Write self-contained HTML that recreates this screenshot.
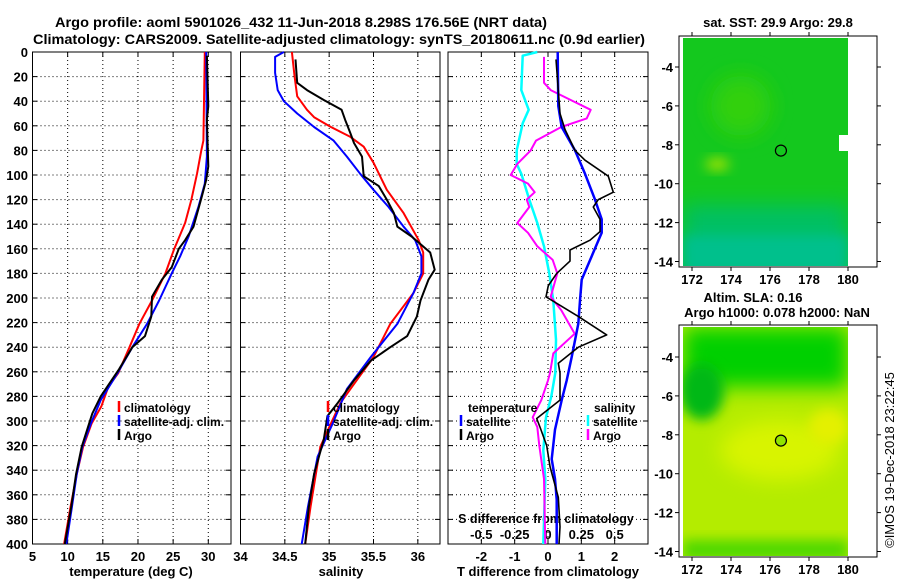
<!DOCTYPE html>
<html><head><meta charset="utf-8"><style>
html,body{margin:0;padding:0;background:#fff;}
svg{display:block;font-family:"Liberation Sans",Arial,sans-serif;font-weight:bold;}
</style></head><body>
<svg id="fig" width="900" height="580" viewBox="0 0 900 580" xmlns="http://www.w3.org/2000/svg">
<defs>
<filter id="blur6" x="-50%" y="-50%" width="200%" height="200%"><feGaussianBlur stdDeviation="6"/></filter>
<filter id="blur10" x="-50%" y="-50%" width="200%" height="200%"><feGaussianBlur stdDeviation="10"/></filter>
<clipPath id="clipM1"><rect x="683" y="38" width="165" height="228"/></clipPath>
<clipPath id="clipM2"><rect x="683" y="327" width="165" height="229"/></clipPath>
</defs>
<text x="301" y="27" font-size="14" text-anchor="middle" textLength="492" lengthAdjust="spacingAndGlyphs">Argo profile: aoml 5901026_432 11-Jun-2018 8.298S 176.56E (NRT data)</text>
<text x="339" y="44" font-size="14" text-anchor="middle" textLength="612" lengthAdjust="spacingAndGlyphs">Climatology: CARS2009. Satellite-adjusted climatology: synTS_20180611.nc (0.9d earlier)</text>
<g id="plots"></g>
<g id="maps"></g>
</svg>
<script>
// ---- depth axis ----
const depthTicks = [0,20,40,60,80,100,120,140,160,180,200,220,240,260,280,300,320,340,360,380,400];
// ---- temperature panel data ----
const tempTicks = [5,10,15,20,25,30];
const climTDepth = [0,72,80,99,120,139,161,180,202,221,240,261,272,288,302,321,343,370,400];
const climTVal   = [29.5,29.3,29.0,28.4,27.6,26.7,25.1,23.9,22.0,20.2,18.8,17.2,15.8,14.8,13.4,12.2,11.3,10.4,9.5];
const satTDepth  = [0,85,107,126,150,166,180,202,221,240,261,283,302,321,343,370,400];
const satTVal    = [29.7,29.8,29.5,28.6,27.2,26.0,24.8,23.0,21.3,19.2,17.1,14.7,13.3,12.1,11.3,10.6,9.8];
const argoTDepth = [3,44,55,93,104,117,142,153,160,175,185,199,215,231,240,258,280,294,321,343,370,400];
const argoTVal   = [29.8,30.0,29.8,30.0,29.7,29.1,27.9,26.7,25.8,24.8,23.4,22.0,21.9,21.0,19.2,17.3,14.7,13.5,12.0,11.2,10.5,9.6];
// ---- salinity panel data ----
const salTicks = ["34","34.5","35","35.5","36"];
const climSDepth = [0,20,36,47,53,61,69,77,90,112,131,153,163,180,196,221,248,274,285,302,321,343,370,400];
const climSVal   = [34.58,34.61,34.64,34.75,34.83,35.02,35.24,35.39,35.50,35.65,35.84,36.01,36.06,36.06,35.95,35.69,35.50,35.24,35.13,35.02,34.90,34.85,34.79,34.73];
const satSDepth  = [0,4,17,31,40,50,61,72,85,99,112,126,142,153,166,180,196,221,248,274,302,329,370,400];
const satSVal    = [34.49,34.39,34.39,34.42,34.49,34.64,34.83,35.05,35.20,35.35,35.50,35.67,35.84,35.97,36.04,36.04,35.95,35.77,35.47,35.20,35.04,34.87,34.76,34.69];
const argoSDepth = [6,25,31,39,47,55,66,74,85,101,109,120,131,142,150,163,177,185,202,215,231,240,251,267,285,296,315,343,370,400];
const argoSVal   = [34.62,34.64,34.75,34.94,35.14,35.18,35.24,35.28,35.37,35.39,35.56,35.65,35.73,35.77,35.93,36.14,36.19,36.12,36.03,35.99,35.88,35.69,35.47,35.28,35.10,34.98,34.94,34.83,34.77,34.73];
// ---- difference panel data ----
const diffTTicks = [-2,-1,0,1,2];
const diffSTickLabels = ["-0.5","-0.25","0","0.25","0.5"];
const diffSTicks = [-0.5,-0.25,0,0.25,0.5];
const satDTDepth = [0,44,61,80,99,120,136,147,166,185,202,221,248,267,283,307,331,347,364,400];
const satDTVal   = [0.29,0.31,0.41,0.81,1.11,1.41,1.61,1.61,1.31,1.01,0.96,0.91,0.71,0.56,0.41,0.21,0.11,0.21,0.26,0.26];
const argoDTDepth = [6,50,63,80,88,101,114,120,126,136,146,153,161,170,180,190,199,215,230,240,253,261,267,283,298,305,320,337,362,386,400];
const argoDTVal   = [0.24,0.36,0.51,0.81,1.11,1.81,1.96,1.51,1.36,1.56,1.56,1.26,0.66,0.66,0.26,0.01,-0.06,0.91,1.76,0.91,0.31,0.36,0.36,0.36,-0.34,-0.24,-0.04,0.06,0.31,0.36,0.33];
const satDSDepth = [0,3,31,47,58,80,91,99,120,139,158,180,202,234,261,280,297,324,347,400];
const satDSVal   = [-0.08,-0.19,-0.20,-0.145,-0.19,-0.235,-0.235,-0.20,-0.14,-0.08,-0.03,0.01,0.04,0.06,0.055,0.025,-0.015,-0.035,-0.02,-0.035];
const argoDSDepth = [4,25,31,39,47,54,61,72,80,91,100,107,114,120,126,139,147,158,169,180,199,210,229,245,261,267,283,297,305,320,347,400];
const argoDSVal   = [-0.03,-0.03,0.02,0.17,0.32,0.29,0.10,-0.09,-0.13,-0.23,-0.28,-0.15,-0.10,-0.16,-0.14,-0.23,-0.15,-0.08,0.035,0.07,0.02,0.10,0.20,0.04,0.015,0.0,-0.05,-0.115,-0.08,-0.065,-0.03,-0.02];
// ---- map axes ----
const lonTicks = [172,174,176,178,180];
const latTicks = [-4,-6,-8,-10,-12,-14];
const argoLon = 176.56, argoLat = -8.298;

const NS="http://www.w3.org/2000/svg";
const plots=document.getElementById('plots');
const maps=document.getElementById('maps');
function mk(tag,attrs,parent){const e=document.createElementNS(NS,tag);for(const k in attrs)e.setAttribute(k,attrs[k]);(parent||plots).appendChild(e);return e;}
function txt(s,attrs,parent){const e=mk('text',attrs,parent);e.textContent=s;return e;}

const TOP=52, BOT=544;
const yD=d=>TOP+d*(BOT-TOP)/400;
const panels=[
 {name:'temperature',x0:32.5,x1:231,lo:5,hi:33.23},
 {name:'salinity',x0:240.5,x1:440,lo:34,hi:36.25},
 {name:'difference',x0:448,x1:648,lo:-3,hi:3}
];
panels.forEach(p=>{p.sx=v=>p.x0+(v-p.lo)*(p.x1-p.x0)/(p.hi-p.lo);});
const [P1,P2,P3]=panels;

function frame(p,vticks){
  const g=mk('g',{});
  
  
  depthTicks.forEach(d=>{
    if(d===0||d===400)return;
    const y=yD(d);
    const l=mk('line',{x1:p.x0,x2:p.x1,y1:y,y2:y,stroke:'#000','stroke-width':1,'stroke-dasharray':'1,3'},g);
    
    
    mk('line',{x1:p.x0,x2:p.x0+5,y1:y,y2:y,stroke:'#000'},g);
    mk('line',{x1:p.x1-5,x2:p.x1,y1:y,y2:y,stroke:'#000'},g);
  });
  vticks.forEach(v=>{
    const x=p.sx(v);
    if(x<=p.x0+1||x>=p.x1-1)return;
    const l=mk('line',{x1:x,x2:x,y1:TOP,y2:BOT,stroke:'#000','stroke-width':1,'stroke-dasharray':'1,3'},g);
    
    
    mk('line',{x1:x,x2:x,y1:BOT-5,y2:BOT,stroke:'#000'},g);
    mk('line',{x1:x,x2:x,y1:TOP,y2:TOP+5,stroke:'#000'},g);
  });
  const r=mk('rect',{x:p.x0,y:TOP,width:p.x1-p.x0,height:BOT-TOP,fill:'none',stroke:'#000','stroke-width':1},g);
  
  
  return g;
}
function line(p,depths,vals,color,name,w,scale){
  const pts=depths.map((d,i)=>p.sx(vals[i]*(scale||1)).toFixed(1)+','+yD(d).toFixed(1)).join(' ');
  const e=mk('polyline',{points:pts,fill:'none',stroke:color,'stroke-width':w||2,'stroke-linejoin':'round'});
  
  
}

frame(P1,tempTicks);
frame(P2,salTicks.map(Number));
frame(P3,diffTTicks);

depthTicks.forEach(d=>{
  const t=txt(String(d),{x:28,y:yD(d)+5,'font-size':13,'text-anchor':'end'});
  
  
});
tempTicks.forEach(v=>{const t=txt(String(v),{x:P1.sx(v),y:561,'font-size':13,'text-anchor':'middle'});
  });
salTicks.forEach(v=>{const t=txt(v,{x:P2.sx(Number(v)),y:561,'font-size':13,'text-anchor':'middle'});
  });
diffTTicks.forEach(v=>{const t=txt(String(v),{x:P3.sx(v),y:561,'font-size':13,'text-anchor':'middle'});
  });
diffSTicks.forEach((v,i)=>{const t=txt(diffSTickLabels[i],{x:P3.sx(v*4),y:539,'font-size':13,'text-anchor':'middle'});
  });
[['temperature (deg C)',131,'temperature-axis-title'],['salinity',341,'salinity-axis-title'],['T difference from climatology',548,'t-diff-axis-title']].forEach(a=>{
  const t=txt(a[0],{x:a[1],y:576,'font-size':13,'text-anchor':'middle'});
  });
{const t=txt('S difference from climatology',{x:546,y:523,'font-size':12.5,'text-anchor':'middle'});
 }

line(P1,climTDepth,climTVal,'#ff0000','temperature-climatology-line');
line(P1,satTDepth,satTVal,'#0000ff','temperature-satellite-line');
line(P1,argoTDepth,argoTVal,'#000000','temperature-argo-line');
line(P2,climSDepth,climSVal,'#ff0000','salinity-climatology-line');
line(P2,satSDepth,satSVal,'#0000ff','salinity-satellite-line');
line(P2,argoSDepth,argoSVal,'#000000','salinity-argo-line');
line(P3,satDSDepth,satDSVal,'#00ffff','s-diff-satellite-line',2.5,4);
line(P3,argoDSDepth,argoDSVal,'#ff00ff','s-diff-argo-line',2,4);
line(P3,satDTDepth,satDTVal,'#0000ff','t-diff-satellite-line',2.5);
line(P3,argoDTDepth,argoDTVal,'#000000','t-diff-argo-line',1.6);

function legend(x,y,color,label,name){
  const g=mk('g',{});
  
  
  mk('line',{x1:x,x2:x,y1:y-11,y2:y,stroke:color,'stroke-width':2.5},g);
  txt(label,{x:x+5,y:y,'font-size':12},g);
}
legend(119,412,'#ff0000','climatology','legend-climatology');
legend(119,426,'#0000ff','satellite-adj. clim.','legend-satellite-adj');
legend(119,440,'#000000','Argo','legend-argo');
legend(328,412,'#ff0000','climatology','legend-climatology-2');
legend(328,426,'#0000ff','satellite-adj. clim.','legend-satellite-adj-2');
legend(328,440,'#000000','Argo','legend-argo-2');
{const t=txt('temperature',{x:468,y:412,'font-size':12});}
{const t=txt('salinity',{x:594,y:412,'font-size':12});}
legend(461,426,'#0000ff','satellite','legend-t-satellite');
legend(461,440,'#000000','Argo','legend-t-argo');
legend(588,426,'#00ffff','satellite','legend-s-satellite');
legend(588,440,'#ff00ff','Argo','legend-s-argo');

function mapPanel(yTop,yBot,latM4,name,clip,paint,markerFill){
  const g=mk('g',{},maps);
  
  
  const lonX=l=>692+(l-172)*19.5;
  const latY=l=>latM4+(-4-l)*19.45;
  const inner=mk('g',{'clip-path':'url(#'+clip+')'},g);
  paint(inner,lonX,latY);
  latTicks.forEach(l=>{const y=latY(l);
    mk('line',{x1:675,x2:679,y1:y,y2:y,stroke:'#000'},g);
    mk('line',{x1:877,x2:881,y1:y,y2:y,stroke:'#000'},g);
    const t=txt(String(l),{x:673,y:y+5,'font-size':13,'text-anchor':'end'},g);
    });
  lonTicks.forEach(l=>{const x=lonX(l);
    mk('line',{x1:x,x2:x,y1:yBot,y2:yBot+4,stroke:'#000'},g);
    mk('line',{x1:x,x2:x,y1:yTop-4,y2:yTop,stroke:'#000'},g);
    const t=txt(String(l),{x:x,y:yBot+17,'font-size':13,'text-anchor':'middle'},g);
    });
  mk('rect',{x:679,y:yTop,width:198,height:yBot-yTop,fill:'none',stroke:'#000'},g);
  const c=mk('circle',{cx:lonX(argoLon),cy:latY(argoLat),r:5.5,fill:markerFill,stroke:'#000','stroke-width':1.2},g);
  
  return g;
}
mapPanel(36,267,67,'sst-map','clipM1',(g,lonX,latY)=>{
  mk('rect',{x:683,y:38,width:165,height:228,fill:'#14c81e'},g);
  mk('rect',{x:683,y:205,width:165,height:66,fill:'#00c064',filter:'url(#blur10)'},g);
  mk('rect',{x:683,y:235,width:165,height:40,fill:'#00c08c',filter:'url(#blur6)'},g);
  mk('ellipse',{cx:lonX(173.3),cy:latY(-9),rx:12,ry:6,fill:'#a8e400',filter:'url(#blur6)'},g);
  mk('ellipse',{cx:lonX(174.5),cy:latY(-6),rx:30,ry:30,fill:'#30d010',filter:'url(#blur10)'},g);
  mk('rect',{x:839,y:135,width:10,height:16,fill:'#fff'},g);
},'none');
mapPanel(325,557,357,'sla-map','clipM2',(g,lonX,latY)=>{
  mk('rect',{x:683,y:327,width:165,height:229,fill:'#b4ec00'},g);
  mk('rect',{x:683,y:327,width:165,height:60,fill:'#00d000',filter:'url(#blur10)'},g);
  mk('ellipse',{cx:lonX(172.5),cy:latY(-5.8),rx:22,ry:28,fill:'#00b818',filter:'url(#blur6)'},g);
  mk('ellipse',{cx:lonX(176.5),cy:latY(-8.8),rx:60,ry:30,fill:'#d8f400',filter:'url(#blur10)'},g);
  mk('ellipse',{cx:lonX(179),cy:latY(-7.6),rx:20,ry:18,fill:'#e4f000',filter:'url(#blur6)'},g);
  mk('rect',{x:683,y:540,width:165,height:20,fill:'#50d800',filter:'url(#blur6)'},g);
},'#90e400');
{const t=txt('sat. SST: 29.9 Argo: 29.8',{x:778,y:27,'font-size':13,'text-anchor':'middle'},maps);}
{const t=txt('Altim. SLA: 0.16',{x:753,y:302,'font-size':13,'text-anchor':'middle'},maps);}
{const t=txt('Argo h1000: 0.078 h2000: NaN',{x:777,y:317,'font-size':13,'text-anchor':'middle'},maps);}
{const t=txt('©IMOS 19-Dec-2018 23:22:45',{x:0,y:0,'font-size':13,'font-weight':'normal','text-anchor':'middle',transform:'translate(894,460) rotate(-90)'},maps);}
</script>
</body></html>
